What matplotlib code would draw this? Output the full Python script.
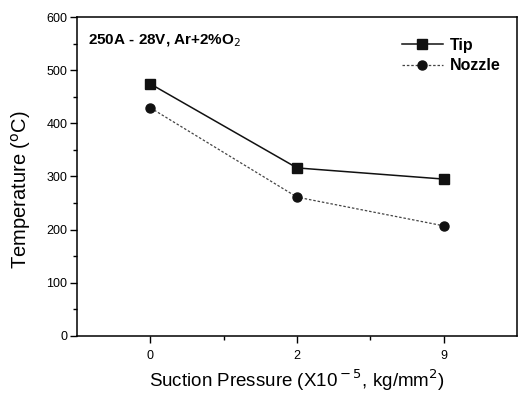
import matplotlib
matplotlib.use("Agg")
import matplotlib.pyplot as plt
from matplotlib.ticker import MultipleLocator, FixedLocator

plt.rcParams['font.family'] = ['Liberation Sans', 'DejaVu Sans']

categories = ["0", "2", "9"]
tip = [474, 316, 295]
nozzle = [429, 261, 207]

fig = plt.figure(figsize=(5.18, 3.96), dpi=100)
ax = fig.add_axes([0.149, 0.152, 0.849, 0.805])
x = list(range(1, len(categories) + 1))
ax.plot(x, tip, color='#111111', lw=1.1, ls='-', marker='s', ms=6.5, label='Tip')
ax.plot(x, nozzle, color='#444444', lw=0.9, ls=(0, (2, 1.5)), marker='o', ms=6.5,
        mfc='#111111', mec='#111111', label='Nozzle')

ax.set_xlim(0.5, 3.5)
ax.set_ylim(0, 600)
ax.xaxis.set_major_locator(FixedLocator(x))
ax.set_xticklabels(categories)
ax.xaxis.set_minor_locator(FixedLocator([1.5, 2.5]))
ax.yaxis.set_major_locator(MultipleLocator(100))
ax.yaxis.set_minor_locator(MultipleLocator(50))
ax.tick_params(axis='both', which='major', direction='out', length=5, width=1, labelsize=9)
ax.tick_params(axis='x', which='major', pad=5)
ax.tick_params(axis='y', which='major', pad=2)
ax.tick_params(axis='both', which='minor', direction='out', length=3, width=1)
for s in ax.spines.values():
    s.set_linewidth(1.1)

ax.set_ylabel('Temperature ($^{\\rm o}$C)', fontsize=14.5)
ax.yaxis.set_label_coords(-0.10, 0.458)
ax.set_xlabel('Suction Pressure (X10$^{\\rm -5}$, kg/mm$^{\\rm 2}$)', fontsize=13.5, labelpad=4)
ax.text(0.025, 0.95, 'Ar'.join(['250A - 28V, ', '+2%O$_{\\rm 2}$']), transform=ax.transAxes,
        fontsize=11, fontweight='bold', va='top', ha='left')

leg = ax.legend(loc='upper right', frameon=False, fontsize=11.5, handlelength=2.6,
                bbox_to_anchor=(0.995, 0.98), labelspacing=0.35, handletextpad=0.4)
for t in leg.get_texts():
    t.set_fontweight('bold')

fig.savefig('out.png', dpi=100)
